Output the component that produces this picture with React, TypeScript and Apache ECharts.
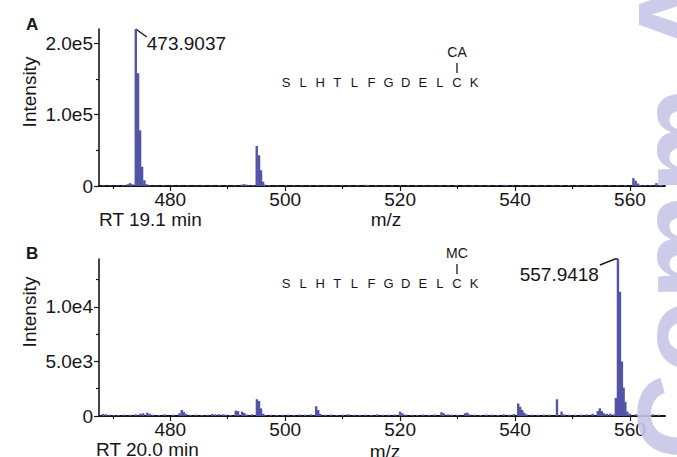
import React, { useEffect, useRef } from "react";
import * as echarts from "echarts";

// ---------- data ----------
const peptide = ["S", "L", "H", "T", "L", "F", "G", "D", "E", "L", "C", "K"];
const modA = "CA";
const modB = "MC";
const rtA = "RT 19.1 min";
const rtB = "RT 20.0 min";
const xName = "m/z";
const yName = "Intensity";
const peakLabelA = "473.9037";
const peakLabelB = "557.9418";
const peakA: [number, number] = [474.0, 220000];
const peakB: [number, number] = [557.91, 14400];

const xMajorTicks = [480, 500, 520, 540, 560];
const xMinorTicks = [470, 490, 510, 530, 550];
const yTicksA = [0, 100000, 200000];
const yMinorA = [50000, 150000];
const yTicksB = [0, 5000, 10000];
const yMinorB = [2500, 7500, 12500];

const specA: [number, number][] = [
  [468.4, 1200], [469.6, 900], [470.8, 1100], [471.9, 1300], [472.6, 2500], [473.0, 4000], [473.4, 2500],
  [474.0, 220000], [474.4, 158000], [474.75, 78000], [475.1, 27000], [475.5, 8000], [475.9, 2500], [476.4, 1200],
  [477.5, 1000], [478.8, 1300], [480.3, 900], [481.6, 1100], [483.0, 1200], [484.4, 1000], [485.7, 1400],
  [487.1, 1100], [488.5, 1500], [489.8, 1000], [491.2, 1200], [492.4, 1800], [492.8, 2600], [493.2, 2000],
  [493.7, 1200], [494.4, 1500],
  [495.05, 56000], [495.45, 43000], [495.8, 22000], [496.15, 6000], [496.5, 1800], [497.2, 1200], [498.6, 1000],
  [500.1, 1300], [501.5, 1100], [502.9, 1000], [504.3, 1200], [505.6, 1400], [507.0, 1000], [508.4, 1100],
  [509.8, 1300], [511.2, 1000], [512.6, 1200], [514.0, 1700], [514.4, 1400], [515.8, 1100], [517.2, 1000],
  [518.6, 1200], [520.0, 1100], [521.4, 1000], [522.8, 1300], [524.2, 1100], [525.6, 1000], [527.0, 1200],
  [528.4, 1100], [529.8, 1400], [531.2, 1000], [532.6, 1200], [534.0, 1100], [535.4, 1300], [536.8, 1200],
  [538.2, 1600], [538.6, 1500], [539.6, 1200], [541.0, 1100], [542.4, 1300], [543.8, 1200], [545.2, 1400],
  [546.6, 1100], [548.0, 1500], [549.4, 1300], [550.8, 1200], [552.2, 1600], [553.6, 1400], [555.0, 1200],
  [556.4, 1500], [557.8, 1300], [559.2, 1400],
  [560.6, 11000], [561.0, 7500], [561.4, 3500], [561.8, 1500], [562.6, 1200], [563.6, 1100], [564.6, 4000], [565.4, 1200],
];

const specB: [number, number][] = [
  [468.3, 180], [468.8, 150], [469.4, 120], [470.2, 100], [471.0, 90], [472.0, 120], [473.0, 110], [474.0, 150],
  [474.8, 220], [475.3, 250], [476.0, 300], [476.4, 200], [477.0, 120], [478.0, 100], [479.0, 150], [480.5, 120],
  [481.6, 250], [482.0, 550], [482.35, 380], [482.7, 200], [483.5, 100], [484.5, 120], [485.5, 90], [486.5, 110],
  [487.3, 180], [487.8, 150], [488.5, 170], [489.2, 160], [489.7, 120], [490.5, 100], [491.4, 500], [491.8, 450],
  [492.5, 400], [492.85, 280], [493.3, 130], [494.2, 150],
  [495.08, 1530], [495.45, 1380], [495.8, 700], [496.15, 200], [496.6, 100], [497.5, 120], [498.5, 100],
  [499.5, 110], [500.5, 130], [501.5, 100], [502.5, 140], [503.5, 120], [504.5, 150],
  [505.4, 900], [505.75, 550], [506.1, 200], [507.0, 110], [508.0, 130], [509.0, 100], [510.0, 120], [511.0, 160],
  [512.0, 110], [513.0, 100], [514.0, 120], [515.0, 100], [516.0, 150], [517.0, 110], [518.0, 120], [519.0, 130],
  [520.0, 400], [520.4, 250], [521.0, 120], [522.0, 110], [523.0, 100], [524.0, 130], [525.0, 110], [526.0, 140],
  [527.2, 350], [527.6, 250], [528.3, 150], [529.0, 120], [530.0, 110], [531.3, 250], [531.7, 300], [532.1, 150],
  [533.0, 120], [534.0, 100], [535.0, 130], [536.0, 120], [537.0, 100], [538.0, 150], [539.0, 120], [539.8, 180],
  [540.55, 1150], [540.9, 850], [541.25, 550], [541.6, 300], [542.0, 150], [543.0, 120], [544.0, 110], [545.0, 130],
  [546.0, 120], [547.3, 1530], [548.1, 400], [548.6, 150], [549.5, 120], [550.5, 110], [551.5, 130], [552.5, 150],
  [553.5, 200], [554.4, 450], [554.75, 700], [555.1, 450], [555.5, 250], [556.0, 200], [556.6, 220], [557.2, 150],
  [557.55, 1650], [557.91, 14400], [558.26, 11400], [558.6, 5000], [558.9, 2600], [559.2, 1300], [559.55, 400],
  [560.0, 200], [561.0, 150], [562.0, 120], [563.0, 200], [564.0, 150], [565.0, 120],
];

const watermark = "Comm A";

// ---------- styles ----------
const FONT = "'Liberation Sans', Arial, Helvetica, sans-serif";
const INK = "#161616";
const BAR = "#5254a6";
const X_MIN = 467.6;
const X_MAX = 566.1;

const expFmt = (v: number) => (v === 0 ? "0" : v.toExponential(1).replace("e+", "e"));

function xAxes(gridIndex: number) {
  return [
    {
      type: "value", gridIndex, min: X_MIN, max: X_MAX, position: "bottom",
      axisLine: { show: true, onZero: false, lineStyle: { color: INK, width: 1.8 } },
      axisTick: { show: true, customValues: xMajorTicks, length: 5, lineStyle: { color: INK, width: 1.2 } },
      axisLabel: { customValues: xMajorTicks, fontSize: 19, color: INK, fontFamily: FONT, margin: 4 },
      splitLine: { show: false },
    },
    {
      type: "value", gridIndex, min: X_MIN, max: X_MAX, position: "bottom",
      axisLine: { show: false },
      axisTick: { show: true, customValues: xMinorTicks, length: 3, lineStyle: { color: INK, width: 1.2 } },
      axisLabel: { show: false },
      splitLine: { show: false },
    },
  ];
}

function yAxes(gridIndex: number, max: number, major: number[], minor: number[]) {
  return [
    {
      type: "value", gridIndex, min: 0, max, position: "left",
      axisLine: { show: true, onZero: false, lineStyle: { color: INK, width: 1.6 } },
      axisTick: { show: true, customValues: major, length: 5, lineStyle: { color: INK, width: 1.2 } },
      axisLabel: { customValues: major, formatter: expFmt, fontSize: 19, color: INK, fontFamily: FONT, margin: 6 },
      splitLine: { show: false },
    },
    {
      type: "value", gridIndex, min: 0, max, position: "left",
      axisLine: { show: false },
      axisTick: { show: true, customValues: minor, length: 3, lineStyle: { color: INK, width: 1.2 } },
      axisLabel: { show: false },
      splitLine: { show: false },
    },
  ];
}

export default function App() {
  const ref = useRef<HTMLDivElement>(null);
  useEffect(() => {
    if (!ref.current) return;
    const chart = echarts.init(ref.current, null, { renderer: "svg" });
    chart.setOption({
      animation: false,
      backgroundColor: "#ffffff",
      grid: [
        { left: 99, top: 29, width: 566, height: 157 },
        { left: 99, top: 259, width: 566, height: 157 },
      ],
      xAxis: [...xAxes(0), ...xAxes(1)],
      yAxis: [...yAxes(0, 220000, yTicksA, yMinorA), ...yAxes(1, 14400, yTicksB, yMinorB)],
      series: [
        {
          type: "bar", xAxisIndex: 0, yAxisIndex: 0, data: specA, barWidth: 2.4,
          itemStyle: { color: BAR }, silent: true,
        },
        {
          type: "bar", xAxisIndex: 2, yAxisIndex: 2, data: specB, barWidth: 2.4,
          itemStyle: { color: BAR }, silent: true,
        },
      ],
    });

    const pA = chart.convertToPixel({ xAxisIndex: 0, yAxisIndex: 0 }, peakA) as number[];
    const pB = chart.convertToPixel({ xAxisIndex: 2, yAxisIndex: 2 }, peakB) as number[];
    const textStyle = (extra: any) => ({ fontFamily: FONT, fill: INK, ...extra });

    const seqEls: any[] = [];
    const seqX0 = 286;
    const pitch = 17.1;
    const seqRows = [
      { y: 82, mod: modA },
      { y: 283, mod: modB },
    ];
    seqRows.forEach((row) => {
      peptide.forEach((ch, i) => {
        seqEls.push({
          type: "text", x: seqX0 + i * pitch, y: row.y,
          style: textStyle({ text: ch, fontSize: 13, align: "center", verticalAlign: "middle" }),
        });
      });
      const cx = seqX0 + 10 * pitch;
      seqEls.push({
        type: "line", shape: { x1: cx, y1: row.y - 19, x2: cx, y2: row.y - 9 },
        style: { stroke: INK, lineWidth: 1.3 },
      });
      seqEls.push({
        type: "text", x: cx, y: row.y - 30,
        style: textStyle({ text: row.mod, fontSize: 14, align: "center", verticalAlign: "middle" }),
      });
    });

    chart.setOption({
      graphic: [
        { type: "text", x: 26, y: 24, style: textStyle({ text: "A", fontSize: 17, fontWeight: "bold", verticalAlign: "middle" }) },
        { type: "text", x: 26, y: 253, style: textStyle({ text: "B", fontSize: 17, fontWeight: "bold", verticalAlign: "middle" }) },
        { type: "text", x: 29, y: 92, rotation: Math.PI / 2, style: textStyle({ text: yName, fontSize: 19, align: "center", verticalAlign: "middle" }) },
        { type: "text", x: 29, y: 312, rotation: Math.PI / 2, style: textStyle({ text: yName, fontSize: 19, align: "center", verticalAlign: "middle" }) },
        { type: "text", x: 99, y: 219, style: textStyle({ text: rtA, fontSize: 19, verticalAlign: "middle" }) },
        { type: "text", x: 96, y: 449, style: textStyle({ text: rtB, fontSize: 19, verticalAlign: "middle" }) },
        { type: "text", x: 386, y: 219, style: textStyle({ text: xName, fontSize: 19, align: "center", verticalAlign: "middle" }) },
        { type: "text", x: 385, y: 451, style: textStyle({ text: xName, fontSize: 19, align: "center", verticalAlign: "middle" }) },
        {
          type: "polyline",
          shape: { points: [[pA[0], pA[1]], [pA[0] + 11, pA[1] + 8]] },
          style: { stroke: INK, lineWidth: 1.4, fill: null },
        },
        { type: "text", x: pA[0] + 11, y: pA[1] + 14, style: textStyle({ text: peakLabelA, fontSize: 19, verticalAlign: "middle" }) },
        {
          type: "polyline",
          shape: { points: [[pB[0] - 18, pB[1] + 6], [pB[0] - 3, pB[1]], [pB[0], pB[1]]] },
          style: { stroke: INK, lineWidth: 1.4, fill: null },
        },
        { type: "text", x: pB[0] - 19, y: pB[1] + 15, style: textStyle({ text: peakLabelB, fontSize: 19, align: "right", verticalAlign: "middle" }) },
        ...seqEls,
        {
          type: "text", x: 680, y: 460, rotation: Math.PI / 2, z: 100,
          style: {
            text: watermark, fontFamily: FONT, fontSize: 120, fontWeight: "bold",
            fill: "#c6c6e8", opacity: 0.9, align: "left", verticalAlign: "middle",
          },
        },
      ],
    });

    return () => chart.dispose();
  }, []);

  return <div ref={ref} style={{ position: "fixed", left: 0, top: 0, width: 677, height: 457 }} />;
}
